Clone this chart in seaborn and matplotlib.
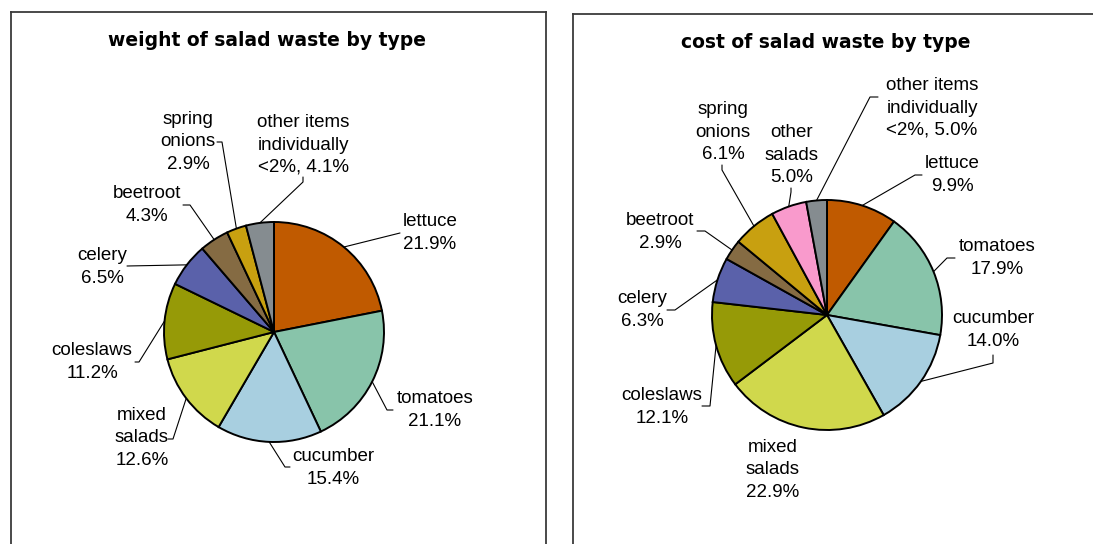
import numpy as np
import matplotlib
matplotlib.use('Agg')
import matplotlib.pyplot as plt
import seaborn as sns

# categories drawn clockwise from 12 o'clock
weight_types = ['lettuce', 'tomatoes', 'cucumber', 'mixed\nsalads', 'coleslaws',
                'celery', 'beetroot', 'spring\nonions', 'other items\nindividually\n<2%,']
weight_pct = [21.9, 21.1, 15.4, 12.6, 11.2, 6.5, 4.3, 2.9, 4.1]

cost_types = ['lettuce', 'tomatoes', 'cucumber', 'mixed\nsalads', 'coleslaws',
              'celery', 'beetroot', 'spring\nonions', 'other\nsalads',
              'other items\nindividually\n<2%,']
cost_pct = [9.9, 17.9, 14.0, 22.9, 12.1, 6.3, 2.9, 6.1, 5.0, 5.0]   # as printed
cost_slice = [9.9, 17.9, 14.0, 22.9, 12.1, 6.3, 2.9, 6.1, 5.0, 2.9]  # as drawn

colours = {
    'lettuce': '#C05A00', 'tomatoes': '#88C4AA', 'cucumber': '#A8CFE0',
    'mixed\nsalads': '#D0D84C', 'coleslaws': '#969A07', 'celery': '#5A61AA',
    'beetroot': '#856B43', 'spring\nonions': '#C8A010', 'other\nsalads': '#F99ACC',
    'other items\nindividually\n<2%,': '#858C90',
}

sns.set_theme(style='white')
plt.rcParams['font.family'] = ['Liberation Sans', 'DejaVu Sans']
plt.rcParams['text.color'] = 'black'

W, H = 1093, 544
fig = plt.figure(figsize=(W / 100, H / 100), dpi=100)
fig.patch.set_facecolor('white')

# label layout in pixels relative to pie centre: text centre, elbow, end of tick
weight_layout = [
    ((156, 99), (126, 99), (126, 99)),
    ((161, -78), (113, -78), (119, -78)),
    ((59, -136), (11, -135), (16, -135)),
    ((-132, -106), (-101, -107), (-106, -107)),
    ((-182, -30), (-135, -30), (-139, -30)),
    ((-172, 65), (-147, 66), (-147, 66)),
    ((-127, 127), (-84, 127), (-91, 127)),
    ((-86, 190), (-52, 190), (-57, 190)),
    ((29, 187), (29, 150), (29, 155)),
]
cost_layout = [
    ((125, 140), (88, 140), (95, 140)),
    ((170, 57), (120, 57), (128, 57)),
    ((166, -15), (166, -48), (166, -40)),
    ((-54, -155), None, None),
    ((-165, -92), (-117, -91), (-125, -91)),
    ((-185, 5), (-152, 5), (-160, 5)),
    ((-167, 83), (-122, 84), (-130, 84)),
    ((-104, 183), (-105, 145), (-105, 150)),
    ((-35, 160), (-36, 123), (-36, 127)),
    ((105, 207), (43, 218), (51, 218)),
]


def panel(box, centre, radius, title, title_off, types, pct, sizes, layout):
    left, right, top, bottom = box
    cx, cy = centre
    ax = fig.add_axes([left / W, (H - bottom) / H, (right - left) / W, (bottom - top) / H])
    wedges, _ = ax.pie(sizes, colors=[colours[t] for t in types], startangle=90,
                       counterclock=False, radius=1,
                       wedgeprops=dict(edgecolor='black', linewidth=1.4))
    ax.set_aspect('auto')
    ax.set_xlim(-(cx - left) / radius, (right - cx) / radius)
    ax.set_ylim(-(bottom - cy) / radius, (cy - top) / radius)
    ax.set_xticks([])
    ax.set_yticks([])
    ax.set_frame_on(True)
    for s in ax.spines.values():
        s.set_visible(True)
        s.set_color('#3a3a3a')
        s.set_linewidth(1.3)

    ax.text(title_off[0] / radius, title_off[1] / radius, title, ha='center', va='center',
            fontsize=13.5, fontweight='bold', family='DejaVu Sans', color='black')

    for w, t, p, lay in zip(wedges, types, pct, layout):
        (tx, ty), elbow, end = lay
        txt = t + ('\n' if '%' not in t else ' ') + f'{p:.1f}%'
        ax.text(tx / radius, ty / radius, txt, ha='center', va='center',
                fontsize=13.5, linespacing=1.4, color='black')
        if elbow is None:
            continue
        mid = np.deg2rad((w.theta1 + w.theta2) / 2)
        xs = [np.cos(mid), elbow[0] / radius, end[0] / radius]
        ys = [np.sin(mid), elbow[1] / radius, end[1] / radius]
        ax.plot(xs, ys, color='black', linewidth=0.8)


panel((11, 546, 12, 570), (274, 332), 110, 'weight of salad waste by type', (-7, 292),
      weight_types, weight_pct, weight_pct, weight_layout)
panel((573, 1100, 14, 570), (827, 315), 115, 'cost of salad waste by type', (-1, 273),
      cost_types, cost_pct, cost_slice, cost_layout)

fig.savefig('out.png', dpi=100)
